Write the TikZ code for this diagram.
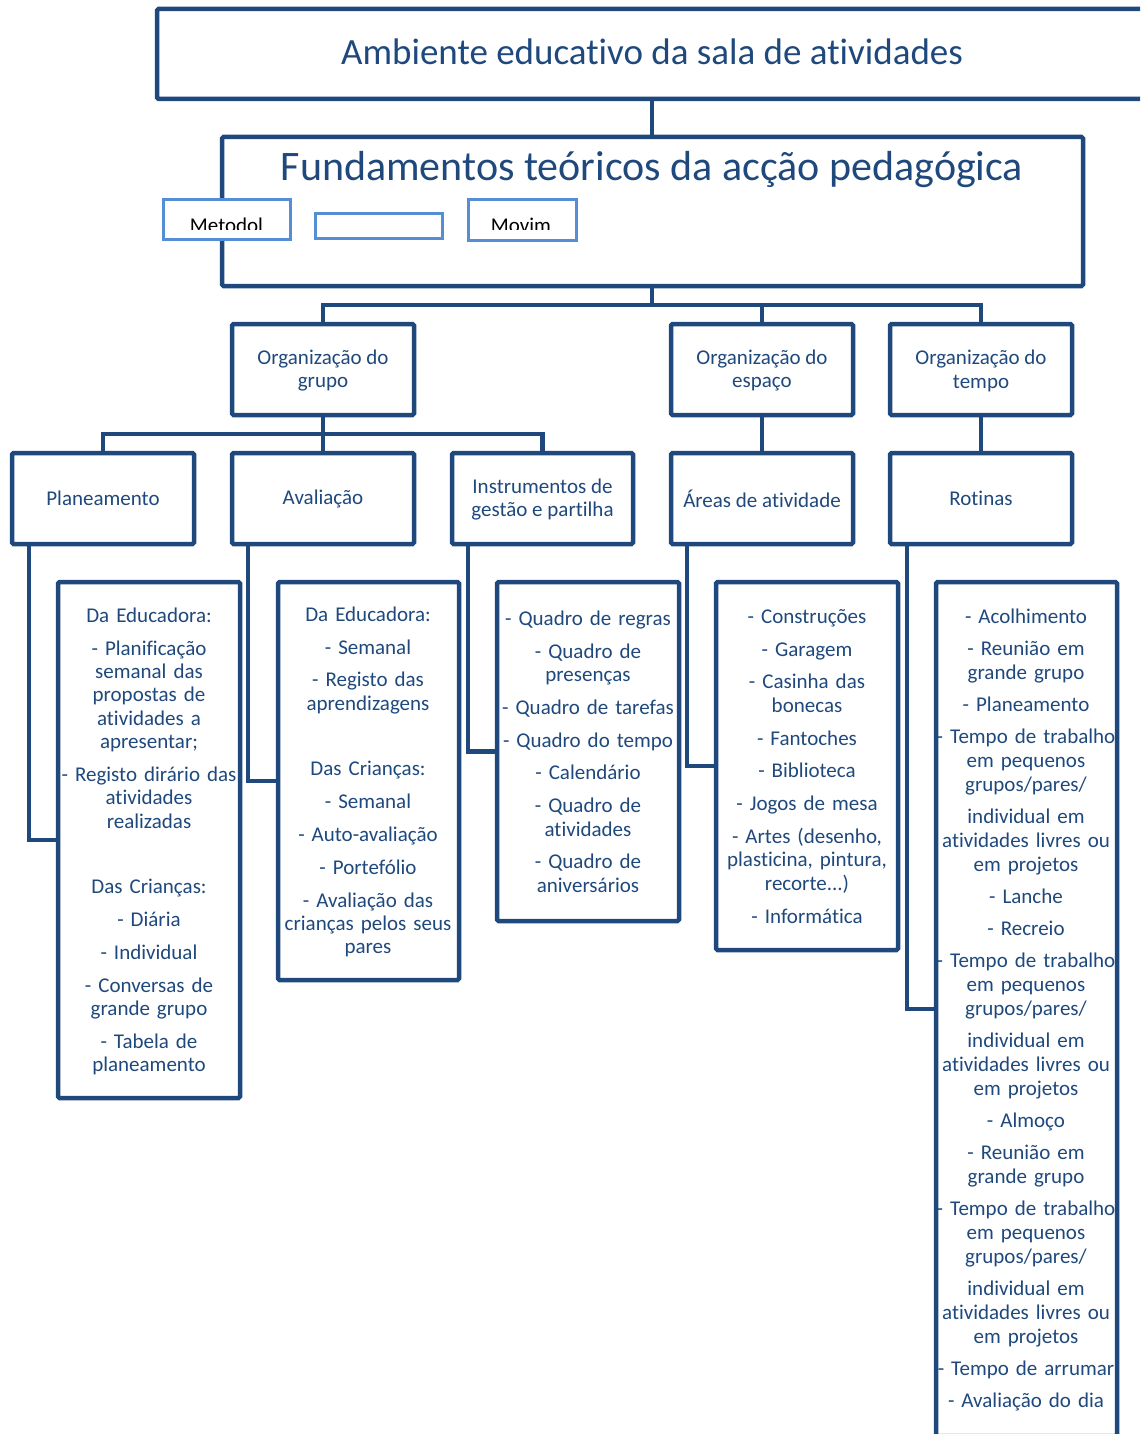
\documentclass[tikz,border=0pt]{standalone}
\usepackage{fontspec}
\setmainfont{Carlito}[Ligatures={NoCommon,NoContextual}]
\usetikzlibrary{backgrounds}
\definecolor{dk}{HTML}{1F497D}
\definecolor{lb}{HTML}{558ED5}
\newcommand\bodyfont{\fontsize{21}{23.4}\selectfont}
\newcommand\rotfont{\fontsize{21}{24}\selectfont}
\newcommand\fl{\rule{0pt}{16pt}}
\newcommand\ps{9.4pt}
\newcommand\rs{8pt}
\begin{document}
\begin{tikzpicture}[x=1pt,y=-1pt,
  box/.style={draw=dk, line width=4.5pt, rounded corners=1.5pt, fill=white, inner sep=0pt, align=center, text=dk, font=\bodyfont},
  lbox/.style={draw=lb, line width=3pt, fill=white, inner sep=0pt},
  conn/.style={draw=dk, line width=4.5pt, line cap=rect},
  dtext/.style={text=dk, font=\bodyfont, align=center, text width=250pt, inner sep=0pt, anchor=north},
  rtext/.style={dtext, font=\rotfont}]
\useasboundingbox (0,0) rectangle (1140,1434);
\clip (0,0) rectangle (1140,1434);

% top boxes
\node[box, minimum width=990pt, minimum height=90pt] (top) at (652,54) {};
\node[text=dk, font=\fontsize{37}{44}\selectfont, anchor=base, inner sep=0pt] (ttop) at (652,65) {Ambiente educativo da sala de atividades};
\node[box, minimum width=861pt, minimum height=149pt] (fund) at (652.5,211.5) {};
\node[text=dk, font=\fontsize{42}{50}\selectfont, anchor=base, inner sep=0pt] (tfund) at (652,181) {Fundamentos teóricos da acção pedagógica};

% light blue boxes
\node[lbox, minimum width=127pt, minimum height=39pt] (met) at (226.5,219.5) {};
\node[lbox, minimum width=127pt, minimum height=25pt] (blank) at (378.5,225.5) {};
\node[lbox, minimum width=108pt, minimum height=40pt] (mov) at (522,220) {};
\begin{scope}
\clip (165,202) rectangle (574,229.5);
\node[font=\bodyfont, anchor=base, inner sep=0pt] (tmet) at (226.5,232) {Metodol};
\node[font=\bodyfont, anchor=base, inner sep=0pt] (tmov) at (521,232) {Movim};
\end{scope}

% level 2
\node[box, minimum width=182pt, minimum height=91pt] (og) at (323,369.5) {\rule{0pt}{17pt}Organização do\\grupo};
\node[box, minimum width=182pt, minimum height=91pt] (oe) at (762,369.5) {\rule{0pt}{17pt}Organização do\\espaço};
\node[box, minimum width=182pt, minimum height=91pt] (ot) at (981,369.5) {\rule{0pt}{17pt}Organização do\\tempo};

% level 3
\node[box, minimum width=182pt, minimum height=91pt] (pl) at (103,498.5) {Planeamento};
\node[box, minimum width=182pt, minimum height=91pt] (av) at (323,498.5) {Avaliação};
\node[box, minimum width=181pt, minimum height=91pt] (ins) at (542.5,498.5) {\rule{0pt}{17pt}Instrumentos de\\gestão e partilha};
\node[box, minimum width=182pt, minimum height=91pt] (ar) at (762,498.5) {Áreas de atividade};
\node[box, minimum width=182pt, minimum height=91pt] (ro) at (981,498.5) {Rotinas};

% detail boxes
\node[box, minimum width=182pt, minimum height=516pt] (dpl) at (149,840) {};
\node[box, minimum width=181pt, minimum height=398pt] (dav) at (368.5,781) {};
\node[box, minimum width=182pt, minimum height=339pt] (dins) at (588,751.5) {};
\node[box, minimum width=182pt, minimum height=368pt] (dar) at (807,766) {};
\node[box, minimum width=181pt, minimum height=854pt] (dro) at (1026.5,1009) {};

\node[dtext] (tpl) at (149,606) {\fl Da Educadora:\\[\ps]
- Planificação\\ semanal das\\ propostas de\\ atividades a\\ apresentar;\\[\ps]
- Registo dirário das\\ atividades\\ realizadas\\[42.2pt]
Das Crianças:\\[\ps]
- Diária\\[\ps]
- Individual\\[\ps]
- Conversas de\\ grande grupo\\[\ps]
- Tabela de\\ planeamento};

\node[dtext] (tav) at (368,605) {\fl Da Educadora:\\[\ps]
- Semanal\\[\ps]
- Registo das\\ aprendizagens\\[42.2pt]
Das Crianças:\\[\ps]
- Semanal\\[\ps]
- Auto-avaliação\\[\ps]
- Portefólio\\[\ps]
- Avaliação das\\ crianças pelos seus\\ pares};

\node[dtext] (tins) at (588,609) {\fl - Quadro de regras\\[\ps]
- Quadro de\\ presenças\\[\ps]
- Quadro de tarefas\\[\ps]
- Quadro do tempo\\[\ps]
- Calendário\\[\ps]
- Quadro de\\ atividades\\[\ps]
- Quadro de\\ aniversários};

\node[dtext] (tar) at (807,607) {\fl - Construções\\[\ps]
- Garagem\\[\ps]
- Casinha das\\ bonecas\\[\ps]
- Fantoches\\[\ps]
- Biblioteca\\[\ps]
- Jogos de mesa\\[\ps]
- Artes (desenho,\\ plasticina, pintura,\\ recorte...)\\[\ps]
- Informática};

\node[rtext] (tro) at (1026,607) {\fl - Acolhimento\\[\rs]
- Reunião em\\ grande grupo\\[\rs]
- Planeamento\\[\rs]
- Tempo de trabalho\\ em pequenos\\ grupos/pares/\\[\rs]
individual em\\ atividades livres ou\\ em projetos\\[\rs]
- Lanche\\[\rs]
- Recreio\\[\rs]
- Tempo de trabalho\\ em pequenos\\ grupos/pares/\\[\rs]
individual em\\ atividades livres ou\\ em projetos\\[\rs]
- Almoço\\[\rs]
- Reunião em\\ grande grupo\\[\rs]
- Tempo de trabalho\\ em pequenos\\ grupos/pares/\\[\rs]
individual em\\ atividades livres ou\\ em projetos\\[\rs]
- Tempo de arrumar\\[\rs]
- Avaliação do dia};

% connectors
\begin{scope}[on background layer]
\draw[conn] (top.south) -- (top.south |- fund.north);
\coordinate (bus1) at (652,305);
\draw[conn] (fund.south -| bus1) -- (bus1);
\draw[conn] (og.north) |- (bus1) -| (ot.north);
\draw[conn] (oe.north) -- (oe.north |- bus1);
\coordinate (bus2) at (323,434);
\draw[conn] (og.south) -- (bus2);
\draw[conn] (pl.north) |- (bus2) -| (ins.north);
\draw[conn] (av.north) -- (av.north |- bus2);
\draw[conn] (oe.south) -- (ar.north);
\draw[conn] (ot.south) -- (ro.north);
\draw[conn] ([xshift=19pt]pl.south west) |- (dpl.west);
\draw[conn] ([xshift=18pt]av.south west) |- (dav.west);
\draw[conn] ([xshift=18pt]ins.south west) |- (dins.west);
\draw[conn] ([xshift=18pt]ar.south west) |- (dar.west);
\draw[conn] ([xshift=19pt]ro.south west) |- (dro.west);
\end{scope}
\end{tikzpicture}
\end{document}
